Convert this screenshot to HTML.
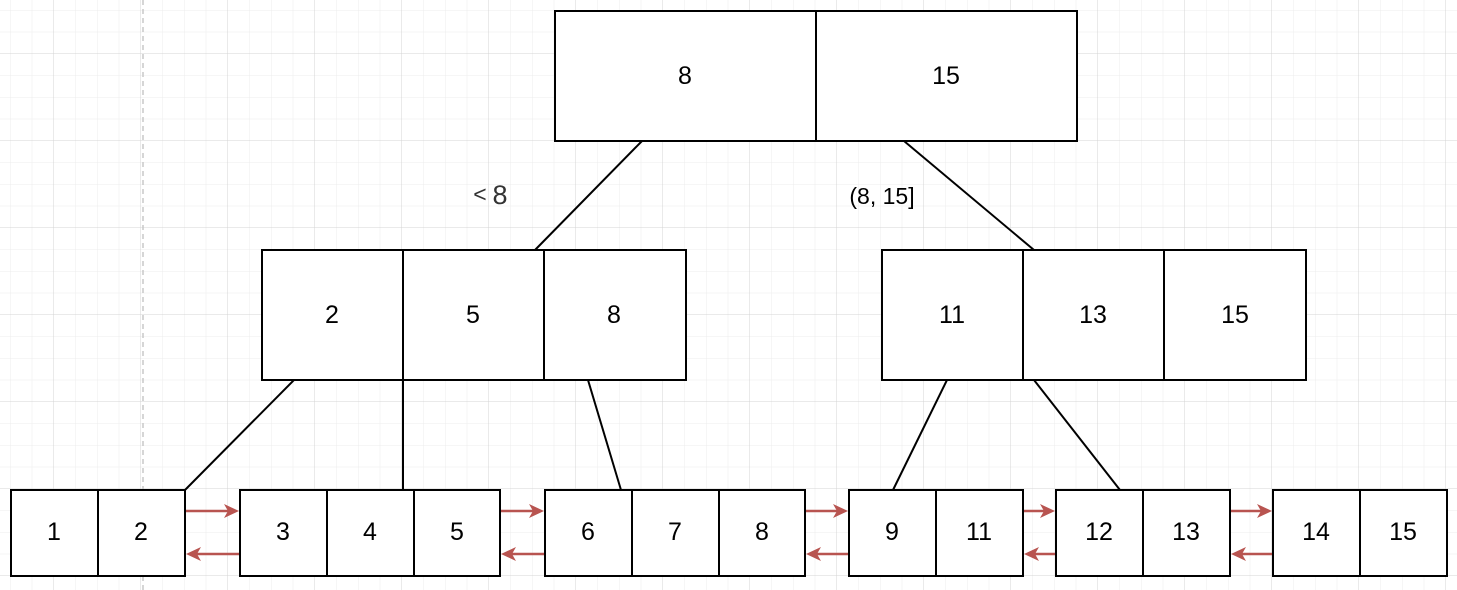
<!DOCTYPE html>
<html><head><meta charset="utf-8"><style>
html,body{margin:0;padding:0;background:#fff;}
svg{display:block;}
text{font-family:"Liberation Sans",Arial,sans-serif;font-size:25px;fill:#000;text-anchor:middle;dominant-baseline:central;}
</style></head><body>
<svg width="1457" height="590" viewBox="0 0 1457 590" xmlns="http://www.w3.org/2000/svg">
<defs>
<pattern id="minor" x="10" y="10" width="21.75" height="21.75" patternUnits="userSpaceOnUse">
<path d="M0 0V21.75M0 0H21.75" stroke="#ececec" stroke-width="1" fill="none"/>
</pattern>
<pattern id="major" x="53.5" y="53.5" width="87" height="87" patternUnits="userSpaceOnUse">
<path d="M0 0V87M0 0H87" stroke="#d4d4d4" stroke-width="1" fill="none"/>
</pattern>
</defs>
<rect width="1457" height="590" fill="#fff"/>
<rect width="1457" height="590" fill="url(#minor)"/>
<rect width="1457" height="590" fill="url(#major)"/>
<line x1="143" y1="0" x2="143" y2="590" stroke="#c8c8c8" stroke-width="1.5" stroke-dasharray="5,4"/>

<g stroke="#000" stroke-width="2" fill="none">
<line x1="642" y1="141" x2="535" y2="250"/>
<line x1="904" y1="141" x2="1034" y2="250"/>
<line x1="294" y1="380" x2="185" y2="490"/>
<line x1="403" y1="380" x2="403" y2="490"/>
<line x1="588" y1="380" x2="621" y2="490"/>
<line x1="947" y1="380" x2="893" y2="490"/>
<line x1="1034" y1="380" x2="1120" y2="490"/>
</g>

<g stroke="#000" stroke-width="2" fill="#fff">
<rect x="555" y="11" width="261" height="130"/><rect x="816" y="11" width="261" height="130"/>
<rect x="262" y="250" width="141" height="130"/><rect x="403" y="250" width="141" height="130"/><rect x="544" y="250" width="142" height="130"/>
<rect x="882" y="250" width="141" height="130"/><rect x="1023" y="250" width="141" height="130"/><rect x="1164" y="250" width="142" height="130"/>
<rect x="11" y="490" width="87" height="86"/><rect x="98" y="490" width="87" height="86"/>
<rect x="240" y="490" width="87" height="86"/><rect x="327" y="490" width="87" height="86"/><rect x="414" y="490" width="86" height="86"/>
<rect x="545" y="490" width="87" height="86"/><rect x="632" y="490" width="87" height="86"/><rect x="719" y="490" width="86" height="86"/>
<rect x="849" y="490" width="87" height="86"/><rect x="936" y="490" width="87" height="86"/>
<rect x="1056" y="490" width="87" height="86"/><rect x="1143" y="490" width="87" height="86"/>
<rect x="1273" y="490" width="87" height="86"/><rect x="1360" y="490" width="87" height="86"/>
</g>

<g stroke="#b85450" stroke-width="2.5" fill="none">
<line x1="186" y1="511" x2="228" y2="511"/><line x1="239" y1="554" x2="197" y2="554"/>
<line x1="501" y1="511" x2="533" y2="511"/><line x1="544" y1="554" x2="512" y2="554"/>
<line x1="806" y1="511" x2="837" y2="511"/><line x1="848" y1="554" x2="817" y2="554"/>
<line x1="1024" y1="511" x2="1044" y2="511"/><line x1="1055" y1="554" x2="1035" y2="554"/>
<line x1="1231" y1="511" x2="1261" y2="511"/><line x1="1272" y1="554" x2="1242" y2="554"/>
</g>
<g fill="#b85450">
<path d="M239 511L224 504L228 511L224 518Z"/><path d="M186 554L201 547L197 554L201 561Z"/>
<path d="M544 511L529 504L533 511L529 518Z"/><path d="M501 554L516 547L512 554L516 561Z"/>
<path d="M848 511L833 504L837 511L833 518Z"/><path d="M806 554L821 547L817 554L821 561Z"/>
<path d="M1055 511L1040 504L1044 511L1040 518Z"/><path d="M1024 554L1039 547L1035 554L1039 561Z"/>
<path d="M1272 511L1257 504L1261 511L1257 518Z"/><path d="M1231 554L1246 547L1242 554L1246 561Z"/>
</g>

<text x="685" y="76">8</text><text x="946" y="76">15</text>
<text x="332" y="315">2</text><text x="473" y="315">5</text><text x="614" y="315">8</text>
<text x="952" y="315">11</text><text x="1093" y="315">13</text><text x="1235" y="315">15</text>
<text x="54" y="532">1</text><text x="141" y="532">2</text>
<text x="283" y="532">3</text><text x="370" y="532">4</text><text x="457" y="532">5</text>
<text x="588" y="532">6</text><text x="675" y="532">7</text><text x="762" y="532">8</text>
<text x="892" y="532">9</text><text x="979" y="532">11</text>
<text x="1099" y="532">12</text><text x="1186" y="532">13</text>
<text x="1316" y="532">14</text><text x="1403" y="532">15</text>
<text x="480" y="194" style="font-size:23px;fill:#333">&lt;</text>
<text x="500" y="195" style="font-size:27px;fill:#333">8</text>
<text x="882" y="196" style="font-size:23px">(8, 15]</text>
</svg>
</body></html>
